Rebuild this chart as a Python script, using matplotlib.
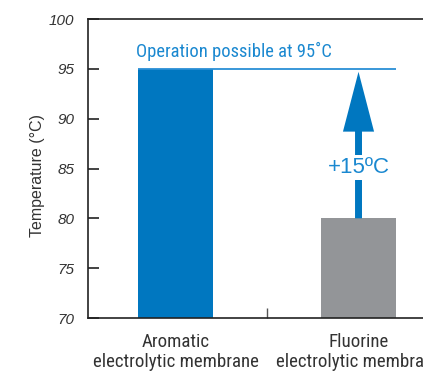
import matplotlib
matplotlib.use("Agg")
import matplotlib.pyplot as plt

# data
categories = ["Aromatic\nelectrolytic membrane", "Fluorine\nelectrolytic membrane"]
temps = [95, 80]
bar_colors = ["#0077c0", "#939598"]
yticks = [70, 75, 80, 85, 90, 95, 100]
limit_temp = 95
gain_label = "+15ºC"
limit_label = "Operation possible at 95˚C"

blue = "#0077c0"
text_blue = "#1a88d0"
narrow = ["Roboto Condensed", "Liberation Sans", "DejaVu Sans"]
plain = ["Liberation Sans", "DejaVu Sans"]

fig = plt.figure(figsize=(4.23, 3.73), dpi=100)
ax = fig.add_axes([88 / 423, 55 / 373, 358 / 423, 299 / 373])

x = list(range(len(categories)))
ax.bar(x, [t - 70 for t in temps], bottom=70, width=0.41, color=bar_colors, zorder=2)
ax.set_xlim(-0.478, 1.478)
ax.set_ylim(70, 100)

# line at the 95 C level
ax.hlines(limit_temp, x[0] - 0.205, x[1] + 0.205, color="#2a8fd6", lw=1.3, zorder=3)
ax.text(x[0] - 0.215, limit_temp + 0.75, limit_label, color=text_blue,
        fontsize=13.3, family=narrow, ha="left", va="bottom")

# arrow from fluorine bar up to 95
ax.arrow(x[1], temps[1], 0, limit_temp - temps[1] - 0.3, width=0.038,
         head_width=0.17, head_length=6.0, length_includes_head=True,
         color=blue, lw=0, zorder=3)
ax.text(x[1], 85.1, gain_label, color=text_blue, fontsize=16, family=plain,
        ha="center", va="center", zorder=4,
        bbox=dict(facecolor="white", edgecolor="none", pad=1.5))

ax.set_yticks(yticks)
ax.set_yticklabels([str(v) for v in yticks], fontstyle="italic", family=plain,
                   fontsize=11, color="#333333")
ax.tick_params(axis="y", direction="in", length=8, width=1.2, pad=10, color="#222222")
ax.set_xticks(x)
ax.set_xticklabels(categories, family=narrow, fontsize=13.6, color="#333333",
                   linespacing=1.15)
ax.tick_params(axis="x", length=0, pad=11)
ax.set_xticks([0.5], minor=True)
ax.tick_params(axis="x", which="minor", direction="in", length=7, width=1, color="#555555")

ax.set_ylabel("Temperature (°C)", family=plain, fontsize=11.5, color="#333333")
ax.yaxis.set_label_coords(-0.12, 0.475)

for s in ["left", "bottom", "top"]:
    ax.spines[s].set_linewidth(1.2)
    ax.spines[s].set_color("#222222")
ax.spines["right"].set_visible(False)

fig.savefig("out.png", dpi=100)
